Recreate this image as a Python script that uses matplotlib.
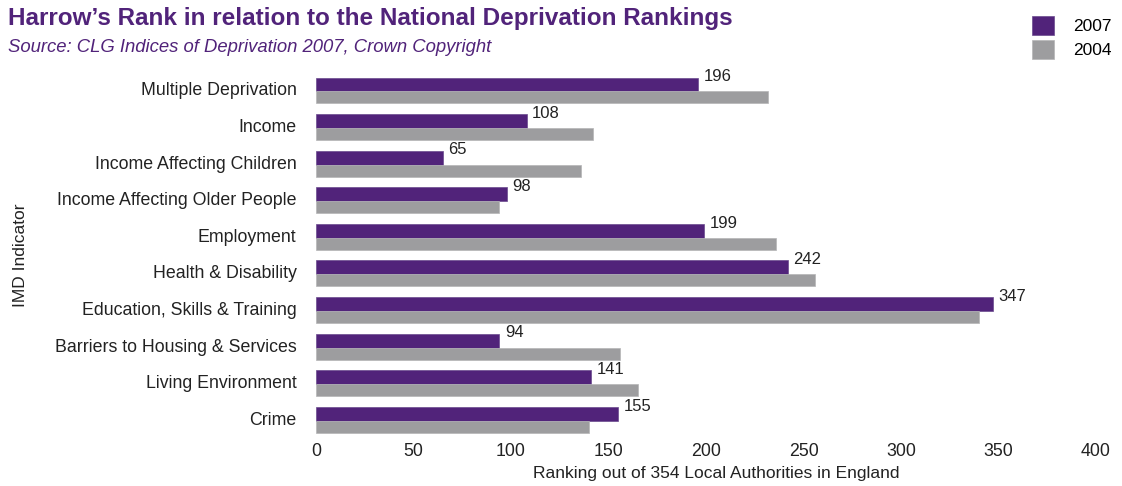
import matplotlib
matplotlib.use("Agg")
import matplotlib.pyplot as plt
import numpy as np

categories = ["Multiple Deprivation", "Income", "Income Affecting Children",
              "Income Affecting Older People", "Employment", "Health & Disability",
              "Education, Skills & Training", "Barriers to Housing & Services",
              "Living Environment", "Crime"]
rank_2007 = [196, 108, 65, 98, 199, 242, 347, 94, 141, 155]
rank_2004 = [232, 142, 136, 94, 236, 256, 340, 156, 165, 140]
xticks = [0, 50, 100, 150, 200, 250, 300, 350, 400]

purple = "#51237a"
grey = "#9d9d9f"
plt.rcParams["font.family"] = ["Liberation Sans", "DejaVu Sans"]

fig = plt.figure(figsize=(11.22, 4.86), dpi=100)
ax = fig.add_axes([316 / 1122, 1 - 442 / 486, (1096 - 316) / 1122, (442 - 68) / 486])

y = np.arange(len(categories))
ax.barh(y - 0.36, rank_2007, height=0.38, align="edge", color=purple,
        edgecolor="#6a4a8e", linewidth=0.5, label="2007")
ax.barh(y + 0.02, rank_2004, height=0.33, align="edge", color=grey,
        edgecolor="#b5b5b7", linewidth=0.5, label="2004")

for i, v in enumerate(rank_2007):
    ax.annotate(str(v), (v, i - 0.38), xytext=(4, 0), textcoords="offset points",
                ha="left", va="center", fontsize=12, color="#222222")

ax.set_xlim(0, 400)
ax.set_ylim(len(categories) - 0.4, -0.62)
ax.set_xticks(xticks)
ax.set_yticks(y - 0.05)
ax.set_yticklabels(categories)
ax.tick_params(length=0, labelsize=12.8, colors="#222222")
ax.tick_params(axis="y", pad=14)
ax.tick_params(axis="x", pad=1)
for s in ax.spines.values():
    s.set_visible(False)

ax.set_xlabel("Ranking out of 354 Local Authorities in England", fontsize=12.5,
              color="#222222")
ax.xaxis.set_label_coords((716 - 316) / 780, -0.065)
ax.set_ylabel("IMD Indicator", fontsize=12.5, color="#222222")
ax.yaxis.set_label_coords(-(316 - 28) / 780, 0.5)

fig.text(8 / 1122, 1 - 19 / 486, "Harrow\u2019s Rank in relation to the National Deprivation Rankings",
         fontsize=17.5, fontweight="bold", color=purple, va="center")
fig.text(8 / 1122, 1 - 48 / 486, "Source: CLG Indices of Deprivation 2007, Crown Copyright",
         fontsize=13.3, style="italic", color=purple, va="center")

fig.legend(loc="upper right", bbox_to_anchor=(1119 / 1122, 1 - 9 / 486), frameon=False,
           fontsize=12.5, handlelength=1.3, handleheight=1.3, handletextpad=1.1,
           labelspacing=0.3, borderaxespad=0)

fig.savefig("out.png", dpi=100)
